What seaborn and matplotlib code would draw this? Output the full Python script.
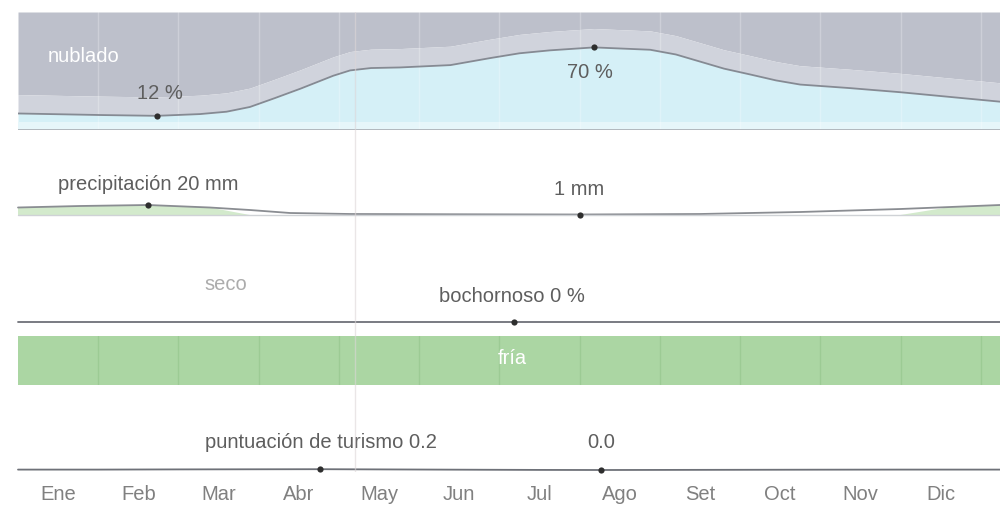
import matplotlib
matplotlib.use("Agg")
import matplotlib.pyplot as plt
import seaborn as sns
import numpy as np

# ---------------- data ----------------
months = ["Ene", "Feb", "Mar", "Abr", "May", "Jun", "Jul", "Ago", "Set", "Oct", "Nov", "Dic"]

# cloud cover line (%), x in months since 1 Jan
cloud_x = [0.0, 1.02, 1.73, 2.27, 2.60, 2.89, 3.20, 3.52, 3.93, 4.14, 4.40, 4.76, 5.39, 5.89,
           6.25, 6.63, 7.18, 7.88, 8.20, 8.50, 8.80, 9.13, 9.45, 9.75, 10.37, 11.0, 11.62, 12.24]
cloud_pct = [14, 12.7, 12, 13.5, 15.5, 19.5, 27, 35, 46, 50.5, 52.5, 53, 55, 61,
             65, 67.5, 70, 68, 64, 58, 52, 47, 42, 38.5, 35.5, 32, 28, 24]
cloud_mark_x = [1.73, 7.18]
cloud_mark_y = [12, 70]
cloud_mark_lbl = ["12 %", "70 %"]

# precipitation (mm)
precip_x = [0.0, 0.77, 1.62, 2.39, 2.89, 3.39, 4.14, 5.39, 7.0, 8.5, 9.75, 11.0, 11.62, 12.24]
precip_mm = [15, 18, 20, 15, 10, 4, 2, 1.5, 1, 2, 6, 12, 16, 20]
precip_mark_x = [1.62, 7.0]
precip_mark_y = [20, 1]
precip_mark_lbl = ["precipitación 20 mm", "1 mm"]

# muggy (%)
humid_x = [0.0, 1.0, 2.0, 3.0, 4.0, 5.0, 6.18, 7.0, 8.0, 9.0, 10.0, 11.0, 12.24]
humid_pct = [0, 0, 0, 0, 0, 0, 0, 0, 0, 0, 0, 0, 0]
humid_mark_x = [6.18]
humid_mark_y = [0]
humid_mark_lbl = ["bochornoso 0 %"]

# temperature band
temp_label = "fría"

# tourism score
tour_x = [0.0, 1.0, 2.0, 3.0, 3.77, 4.5, 5.5, 6.5, 7.27, 8.0, 9.0, 10.0, 11.0, 12.24]
tour_score = [0.1, 0.1, 0.15, 0.18, 0.2, 0.15, 0.08, 0.02, 0.0, 0.02, 0.05, 0.08, 0.1, 0.1]
tour_mark_x = [3.77, 7.27]
tour_mark_y = [0.2, 0.0]
tour_mark_lbl = ["puntuación de turismo 0.2", "0.0"]

# ---------------- style ----------------
sns.set_theme(style="white")
plt.rcParams["font.family"] = ["Liberation Sans Narrow", "Liberation Sans", "DejaVu Sans"]

W, H = 1000, 521
fig = plt.figure(figsize=(W / 100, H / 100), dpi=100)
fig.patch.set_facecolor("white")

X0, X1 = 18, 1000
XMAX = 12.24
TXT = "#5e5e5e"
FS = 14.5
LINE = "#6e7178"
DOT = "#2e2e2e"


def add_ax(top, bottom):
    ax = fig.add_axes([X0 / W, 1 - bottom / H, (X1 - X0) / W, (bottom - top) / H])
    ax.set_xlim(0, XMAX)
    ax.patch.set_alpha(0)
    for s in ax.spines.values():
        s.set_visible(False)
    ax.set_xticks([])
    ax.set_yticks([])
    ax.set_xlabel("")
    ax.set_ylabel("")
    return ax


def label(ax, x, y, txt, dx, dy, color=TXT):
    ax.annotate(txt, xy=(x, y), xytext=(dx, dy), textcoords="offset points",
                ha="center", va="center", fontsize=FS, color=color, annotation_clip=False)


# ---- cloud band ----
ax_c = add_ax(12, 130)
ax_c.set_ylim(0, 100)
cx = np.array(cloud_x)
cy = np.array(cloud_pct)
upper = np.minimum(cy + 16, 100)
ax_c.fill_between(cx, upper, 100, color="#bdc0cb", lw=0)
ax_c.fill_between(cx, cy, upper, color="#d0d3dc", lw=0)
ax_c.fill_between(cx, 7, cy, color="#d5f0f7", lw=0)
ax_c.fill_between(cx, 0, 7, color="#e6f6fa", lw=0)
for m in range(1, 13):
    ax_c.axvline(m, color="white", lw=1, alpha=0.25)
sns.lineplot(x=cloud_x, y=cloud_pct, ax=ax_c, color="#858a93", lw=1.3)
ax_c.axhline(0, color="#a8adb4", lw=1.2)
sns.scatterplot(x=cloud_mark_x, y=cloud_mark_y, ax=ax_c, color=DOT, s=20, linewidth=0, zorder=5)
label(ax_c, cloud_mark_x[0], cloud_mark_y[0], cloud_mark_lbl[0], 2, 16)
label(ax_c, cloud_mark_x[1], cloud_mark_y[1], cloud_mark_lbl[1], -3, -18)
ax_c.text(0.82, 62, "nublado", ha="center", va="center", fontsize=FS, color="white")
ax_c.set_xticks([]); ax_c.set_yticks([]); ax_c.set_xlabel(""); ax_c.set_ylabel("")

# ---- precipitation ----
ax_p = add_ax(175, 215)
ax_p.set_ylim(0, 80)
px_ = np.array(precip_x)
py_ = np.array(precip_mm)
ax_p.fill_between(px_, 0, py_, where=py_ >= 14, interpolate=True, color="#d3eacc", lw=0)
sns.lineplot(x=precip_x, y=precip_mm, ax=ax_p, color="#8a8d92", lw=1.3, clip_on=False)
ax_p.axhline(0, color="#cfd2d6", lw=1, clip_on=False)
sns.scatterplot(x=precip_mark_x, y=precip_mark_y, ax=ax_p, color=DOT, s=20, linewidth=0,
                zorder=5, clip_on=False)
label(ax_p, precip_mark_x[0], precip_mark_y[0], precip_mark_lbl[0], 0, 14.5)
label(ax_p, precip_mark_x[1], precip_mark_y[1], precip_mark_lbl[1], 0, 18)
ax_p.set_xticks([]); ax_p.set_yticks([]); ax_p.set_xlabel(""); ax_p.set_ylabel("")

# ---- muggy ----
ax_h = add_ax(262, 322)
ax_h.set_ylim(0, 100)
sns.lineplot(x=humid_x, y=humid_pct, ax=ax_h, color=LINE, lw=1.3, clip_on=False)
sns.scatterplot(x=humid_mark_x, y=humid_mark_y, ax=ax_h, color=DOT, s=20, linewidth=0,
                zorder=5, clip_on=False)
label(ax_h, humid_mark_x[0], humid_mark_y[0], humid_mark_lbl[0], -1.5, 18)
ax_h.text(2.59, 63, "seco", ha="center", va="center", fontsize=FS, color="#acacac")
ax_h.set_xticks([]); ax_h.set_yticks([]); ax_h.set_xlabel(""); ax_h.set_ylabel("")

# ---- temperature band ----
ax_t = add_ax(336, 385)
ax_t.set_ylim(0, 1)
ax_t.fill_between([0, XMAX], 0, 1, color="#abd6a3", lw=0)
for m in range(1, 13):
    ax_t.axvline(m, color="#9ccb94", lw=1)
ax_t.text(6.16, 0.55, temp_label, ha="center", va="center", fontsize=FS, color="white")

# ---- tourism ----
ax_s = add_ax(430, 470)
ax_s.set_ylim(0, 10)
sns.lineplot(x=tour_x, y=tour_score, ax=ax_s, color=LINE, lw=1.3, clip_on=False)
sns.scatterplot(x=tour_mark_x, y=tour_mark_y, ax=ax_s, color=DOT, s=20, linewidth=0,
                zorder=5, clip_on=False)
label(ax_s, tour_mark_x[0], tour_mark_y[0], tour_mark_lbl[0], 0, 19.5)
label(ax_s, tour_mark_x[1], tour_mark_y[1], tour_mark_lbl[1], 0, 19.5)
ax_s.set_xticks([i + 0.5 for i in range(12)])
ax_s.set_xticklabels(months, fontsize=FS, color="#808080")
ax_s.tick_params(axis="x", length=0, pad=11)
ax_s.set_yticks([]); ax_s.set_xlabel(""); ax_s.set_ylabel("")

# ---- overlay marker line ----
ax_o = add_ax(12, 472)
ax_o.set_ylim(0, 1)
ax_o.axvline(4.2, color="#ddd6d8", lw=1, alpha=0.6)

fig.savefig("out.png", dpi=100, facecolor="white")
